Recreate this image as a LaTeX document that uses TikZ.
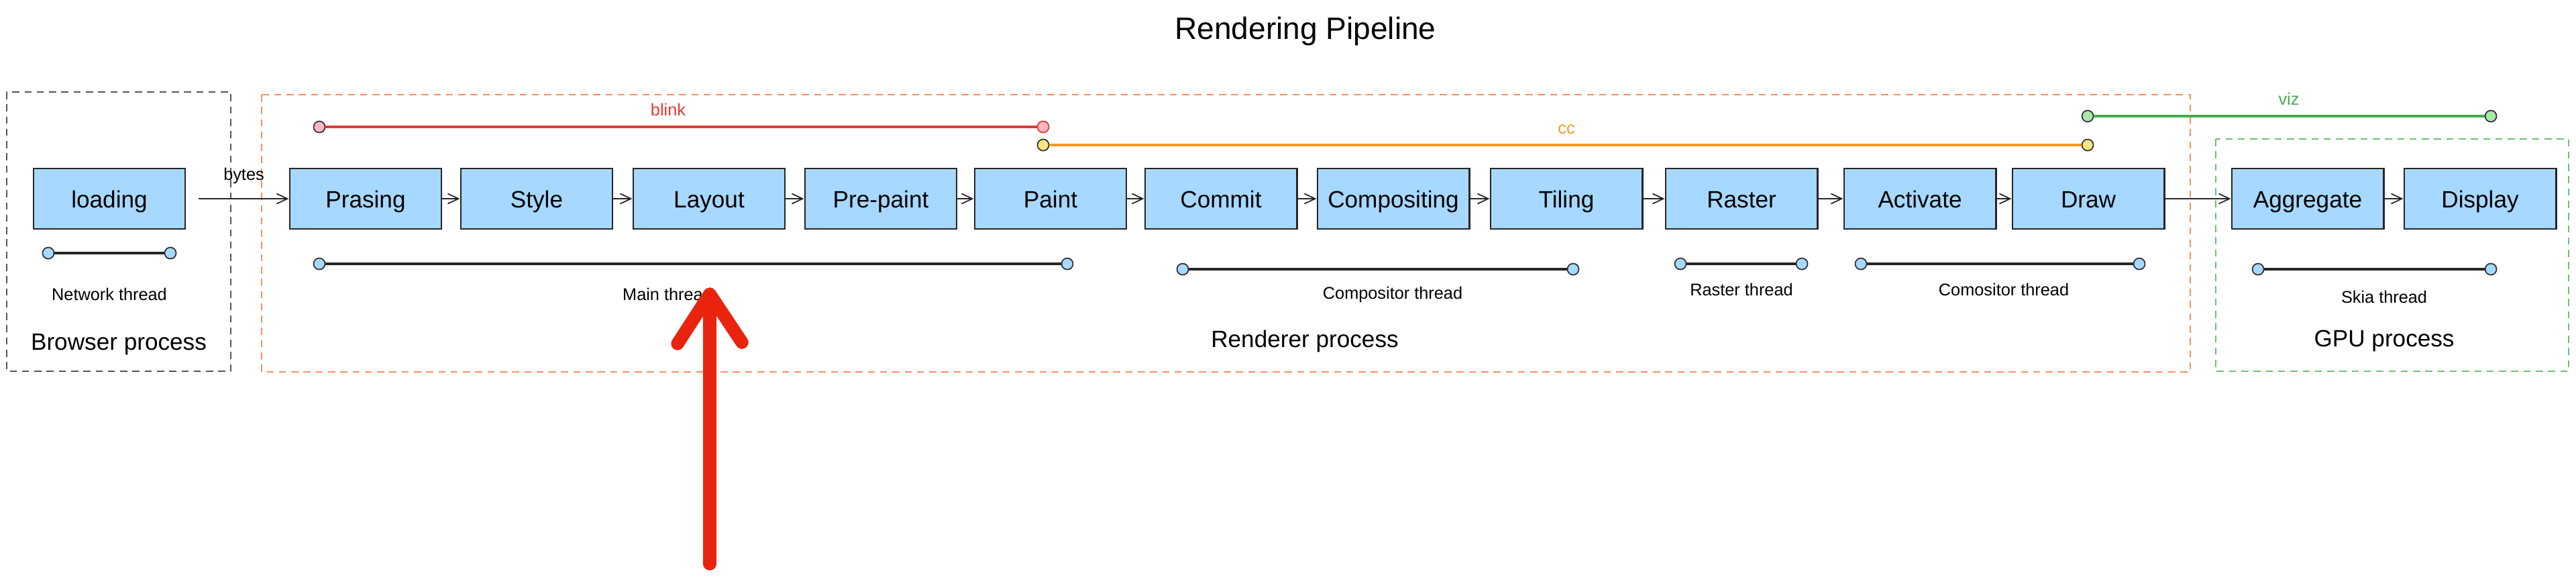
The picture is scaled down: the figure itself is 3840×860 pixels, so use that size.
\documentclass[tikz,border=0pt]{standalone}
\usepackage{fontspec}
\setmainfont{Liberation Sans}
\definecolor{StageBlue}{RGB}{167,216,255}
\definecolor{BlinkRed}{RGB}{229,57,53}
\definecolor{BlinkPink}{RGB}{255,182,193}
\definecolor{CcOrange}{RGB}{245,155,35}
\definecolor{CcYellow}{RGB}{255,229,130}
\definecolor{VizGreen}{RGB}{70,172,76}
\definecolor{VizLight}{RGB}{170,232,170}
\definecolor{BrowserGray}{RGB}{85,85,85}
\definecolor{RendererOrange}{RGB}{244,146,94}
\definecolor{GpuGreen}{RGB}{108,192,112}
\definecolor{MarkerRed}{RGB}{234,35,15}
\usetikzlibrary{positioning, arrows.meta}

\begin{document}
\begin{tikzpicture}[x=0.01cm, y=-0.01cm,
    stage/.style={draw=black!85, line width=0.8pt, fill=StageBlue, minimum width=2.26cm,
      minimum height=0.9cm, inner sep=0pt, text height=7.6pt, text depth=0pt,
      font=\fontsize{10}{12}\selectfont},
    flow/.style={-{Straight Barb[length=1.6mm, width=1.5mm]}, line width=0.5pt, draw=black!85},
    dot/.style={circle, draw=black!80, line width=0.5pt, fill=StageBlue, minimum size=0.17cm, inner sep=0pt},
    thread/.style={line width=0.9pt, draw=black!85},
    small/.style={font=\fontsize{7.2}{9}\selectfont},
    proc/.style={font=\fontsize{10}{12}\selectfont},
    group/.style={dash pattern=on 3pt off 2.2pt, line width=0.6pt}]
  \useasboundingbox (0,0) rectangle (3840,860);

  \node[font=\fontsize{13.1}{16}\selectfont] (title) at (1946,47) {Rendering Pipeline};

  % process frames
  \draw[group, BrowserGray] (10,137) rectangle (344,553);
  \draw[group, RendererOrange] (390,141) rectangle (3265,554);
  \draw[group, GpuGreen] (3303,207) rectangle (3829,553);

  % stages
  \node[stage] (loading) at (163,296) {loading};
  \foreach \nm/\cx/\txt in {prasing/545/Prasing, style/800/Style, layout/1057/Layout,
      prepaint/1313/Pre-paint, paint/1566/Paint, commit/1820/Commit,
      compositing/2077/Compositing, tiling/2335/Tiling, raster/2596/Raster,
      activate/2862/Activate, drawstage/3113/Draw, aggregate/3440/Aggregate,
      display/3697/Display}
    \node[stage] (\nm) at (\cx,296) {\txt};

  \draw[flow] ([xshift=0.19cm]loading.east) -- node[small, above=0.1cm] (bytes) {bytes} (prasing.west);
  \foreach \a/\b in {prasing/style, style/layout, layout/prepaint, prepaint/paint,
      paint/commit, commit/compositing, compositing/tiling, tiling/raster,
      raster/activate, activate/drawstage, drawstage/aggregate, aggregate/display}
    \draw[flow] (\a) -- (\b);

  % code bases
  \node[dot, fill=BlinkPink] (bl1) at (476,189) {};
  \node[dot, fill=BlinkPink, draw=BlinkRed] (bl2) at (1555,189) {};
  \draw[BlinkRed, line width=0.9pt] (bl1) -- (bl2);
  \node[small, text=BlinkRed] (blink) at (996,163) {blink};

  \node[dot, fill=CcYellow] (cc1) at (1555,216) {};
  \node[dot, fill=CcYellow] (cc2) at (3112,216) {};
  \draw[CcOrange, line width=0.9pt] (cc1) -- (cc2);
  \node[small, text=CcOrange] (cc) at (2335,193) {cc};

  \node[dot, fill=VizLight] (vz1) at (3112,173) {};
  \node[dot, fill=VizLight] (vz2) at (3713,173) {};
  \draw[VizGreen, line width=0.9pt] (vz1) -- (vz2);
  \node[small, text=VizGreen] (viz) at (3412,147) {viz};

  % threads
  \node[dot] (nt1) at (72,377) {};
  \node[dot] (nt2) at (254,377) {};
  \draw[thread] (nt1) -- (nt2);
  \node[small] (ntlabel) at (163,438) {Network thread};

  \node[dot] (mt1) at (476,393) {};
  \node[dot] (mt2) at (1591,393) {};
  \draw[thread] (mt1) -- (mt2);
  \node[small] (mtlabel) at (995,438) {Main thread};

  \node[dot] (ct1) at (1763,401) {};
  \node[dot] (ct2) at (2345,401) {};
  \draw[thread] (ct1) -- (ct2);
  \node[small] (ctlabel) at (2076,439) {Compositor thread};

  \node[dot] (rt1) at (2505,393) {};
  \node[dot] (rt2) at (2686,393) {};
  \draw[thread] (rt1) -- (rt2);
  \node[small] (rtlabel) at (2596,431) {Raster thread};

  \node[dot] (at1) at (2774,393) {};
  \node[dot] (at2) at (3189,393) {};
  \draw[thread] (at1) -- (at2);
  \node[small] (atlabel) at (2987,431) {Comositor thread};

  \node[dot] (sk1) at (3366,401) {};
  \node[dot] (sk2) at (3713,401) {};
  \draw[thread] (sk1) -- (sk2);
  \node[small] (sklabel) at (3554,442) {Skia thread};

  % process names
  \node[proc] (browser) at (177,513) {Browser process};
  \node[proc] (renderer) at (1945,508) {Renderer process};
  \node[proc] (gpu) at (3554,508) {GPU process};

  % hand-drawn marker
  \draw[MarkerRed, line width=5.5pt, line cap=round, line join=round] (1058,840) -- (1058,440);
  \draw[MarkerRed, line width=5.5pt, line cap=round, line join=round] (1010,512) -- (1058,438) -- (1106,510);
\end{tikzpicture}
\end{document}
